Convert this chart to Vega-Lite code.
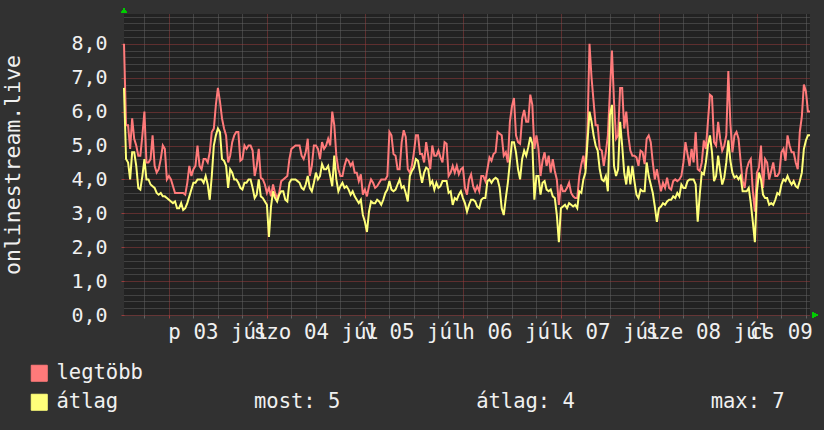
{
  "$schema": "https://vega.github.io/schema/vega-lite/v6.json",
  "width": 686,
  "height": 301,
  "autosize": {"type": "none"},
  "padding": {"left": 124, "top": 14, "right": 14, "bottom": 115},
  "background": "#313131",
  "config": {
    "view": {"stroke": null, "fill": "#222222"},
    "font": "DejaVu Sans Mono"
  },
  "data": {
    "values": [
      {"t":"2020-07-02T13:00","legtöbb":8.0,"átlag":6.7},
      {"t":"2020-07-02T13:30","legtöbb":5.6,"átlag":4.6},
      {"t":"2020-07-02T14:00","legtöbb":5.6,"átlag":4.5},
      {"t":"2020-07-02T14:30","legtöbb":4.9,"átlag":4.0},
      {"t":"2020-07-02T15:00","legtöbb":5.8,"átlag":4.8},
      {"t":"2020-07-02T15:30","legtöbb":5.2,"átlag":4.8},
      {"t":"2020-07-02T16:00","legtöbb":5.0,"átlag":4.4},
      {"t":"2020-07-02T16:30","legtöbb":4.7,"átlag":3.75},
      {"t":"2020-07-02T17:00","legtöbb":4.7,"átlag":3.7},
      {"t":"2020-07-02T17:30","legtöbb":5.3,"átlag":4.1},
      {"t":"2020-07-02T18:00","legtöbb":6.0,"átlag":4.6},
      {"t":"2020-07-02T18:30","legtöbb":4.5,"átlag":4.0},
      {"t":"2020-07-02T19:00","legtöbb":4.5,"átlag":4.0},
      {"t":"2020-07-02T19:30","legtöbb":4.6,"átlag":3.85},
      {"t":"2020-07-02T20:00","legtöbb":5.3,"átlag":3.8},
      {"t":"2020-07-02T20:30","legtöbb":4.4,"átlag":3.75},
      {"t":"2020-07-02T21:00","legtöbb":4.2,"átlag":3.6},
      {"t":"2020-07-02T21:30","legtöbb":4.3,"átlag":3.55},
      {"t":"2020-07-02T22:00","legtöbb":4.6,"átlag":3.6},
      {"t":"2020-07-02T22:30","legtöbb":5.0,"átlag":3.5},
      {"t":"2020-07-02T23:00","legtöbb":4.9,"átlag":3.5},
      {"t":"2020-07-02T23:30","legtöbb":4.0,"átlag":3.45},
      {"t":"2020-07-03T00:00","legtöbb":4.1,"átlag":3.4},
      {"t":"2020-07-03T00:30","legtöbb":4.0,"átlag":3.35},
      {"t":"2020-07-03T01:00","legtöbb":3.8,"átlag":3.3},
      {"t":"2020-07-03T01:30","legtöbb":3.6,"átlag":3.35},
      {"t":"2020-07-03T02:00","legtöbb":3.6,"átlag":3.15},
      {"t":"2020-07-03T02:30","legtöbb":3.6,"átlag":3.15},
      {"t":"2020-07-03T03:00","legtöbb":3.6,"átlag":3.3},
      {"t":"2020-07-03T03:30","legtöbb":3.6,"átlag":3.1},
      {"t":"2020-07-03T04:00","legtöbb":3.55,"átlag":3.15},
      {"t":"2020-07-03T04:30","legtöbb":3.9,"átlag":3.3},
      {"t":"2020-07-03T05:00","legtöbb":4.4,"átlag":3.5},
      {"t":"2020-07-03T05:30","legtöbb":4.1,"átlag":3.7},
      {"t":"2020-07-03T06:00","legtöbb":4.3,"átlag":3.9},
      {"t":"2020-07-03T06:30","legtöbb":4.4,"átlag":3.9},
      {"t":"2020-07-03T07:00","legtöbb":5.0,"átlag":4.0},
      {"t":"2020-07-03T07:30","legtöbb":4.4,"átlag":4.0},
      {"t":"2020-07-03T08:00","legtöbb":4.3,"átlag":4.0},
      {"t":"2020-07-03T08:30","legtöbb":4.6,"átlag":3.9},
      {"t":"2020-07-03T09:00","legtöbb":4.6,"átlag":4.1},
      {"t":"2020-07-03T09:30","legtöbb":4.5,"átlag":3.85},
      {"t":"2020-07-03T10:00","legtöbb":4.8,"átlag":3.4},
      {"t":"2020-07-03T10:30","legtöbb":5.4,"átlag":4.1},
      {"t":"2020-07-03T11:00","legtöbb":5.5,"átlag":5.0},
      {"t":"2020-07-03T11:30","legtöbb":6.2,"átlag":5.3},
      {"t":"2020-07-03T12:00","legtöbb":6.7,"átlag":5.5},
      {"t":"2020-07-03T12:30","legtöbb":6.3,"átlag":5.4},
      {"t":"2020-07-03T13:00","legtöbb":5.8,"átlag":4.6},
      {"t":"2020-07-03T13:30","legtöbb":5.5,"átlag":4.55},
      {"t":"2020-07-03T14:00","legtöbb":5.3,"átlag":4.4},
      {"t":"2020-07-03T14:30","legtöbb":4.5,"átlag":3.75},
      {"t":"2020-07-03T15:00","legtöbb":4.7,"átlag":4.3},
      {"t":"2020-07-03T15:30","legtöbb":5.1,"átlag":4.2},
      {"t":"2020-07-03T16:00","legtöbb":5.3,"átlag":4.0},
      {"t":"2020-07-03T16:30","legtöbb":5.4,"átlag":4.0},
      {"t":"2020-07-03T17:00","legtöbb":5.4,"átlag":3.9},
      {"t":"2020-07-03T17:30","legtöbb":4.55,"átlag":3.75},
      {"t":"2020-07-03T18:00","legtöbb":4.6,"átlag":3.7},
      {"t":"2020-07-03T18:30","legtöbb":5.0,"átlag":3.9},
      {"t":"2020-07-03T19:00","legtöbb":4.9,"átlag":3.9},
      {"t":"2020-07-03T19:30","legtöbb":5.0,"átlag":4.0},
      {"t":"2020-07-03T20:00","legtöbb":5.0,"átlag":4.0},
      {"t":"2020-07-03T20:30","legtöbb":4.85,"átlag":3.75},
      {"t":"2020-07-03T21:00","legtöbb":4.1,"átlag":3.45},
      {"t":"2020-07-03T21:30","legtöbb":4.4,"átlag":3.55},
      {"t":"2020-07-03T22:00","legtöbb":4.9,"átlag":4.0},
      {"t":"2020-07-03T22:30","legtöbb":4.05,"átlag":3.5},
      {"t":"2020-07-03T23:00","legtöbb":4.0,"átlag":3.45},
      {"t":"2020-07-03T23:30","legtöbb":3.85,"átlag":3.35},
      {"t":"2020-07-04T00:00","legtöbb":3.6,"átlag":3.25},
      {"t":"2020-07-04T00:30","legtöbb":3.75,"átlag":2.3},
      {"t":"2020-07-04T01:00","legtöbb":3.5,"átlag":3.2},
      {"t":"2020-07-04T01:30","legtöbb":3.85,"átlag":3.65},
      {"t":"2020-07-04T02:00","legtöbb":3.6,"átlag":3.45},
      {"t":"2020-07-04T02:30","legtöbb":3.45,"átlag":3.35},
      {"t":"2020-07-04T03:00","legtöbb":3.6,"átlag":3.55},
      {"t":"2020-07-04T03:30","legtöbb":3.95,"átlag":3.65},
      {"t":"2020-07-04T04:00","legtöbb":4.0,"átlag":3.65},
      {"t":"2020-07-04T04:30","legtöbb":4.05,"átlag":3.4},
      {"t":"2020-07-04T05:00","legtöbb":4.1,"átlag":3.35},
      {"t":"2020-07-04T05:30","legtöbb":4.6,"átlag":3.9},
      {"t":"2020-07-04T06:00","legtöbb":4.9,"átlag":4.0},
      {"t":"2020-07-04T06:30","legtöbb":4.95,"átlag":4.0},
      {"t":"2020-07-04T07:00","legtöbb":5.0,"átlag":4.0},
      {"t":"2020-07-04T07:30","legtöbb":5.0,"átlag":3.95},
      {"t":"2020-07-04T08:00","legtöbb":5.0,"átlag":3.9},
      {"t":"2020-07-04T08:30","legtöbb":4.7,"átlag":3.75},
      {"t":"2020-07-04T09:00","legtöbb":4.6,"átlag":3.7},
      {"t":"2020-07-04T09:30","legtöbb":4.8,"átlag":3.85},
      {"t":"2020-07-04T10:00","legtöbb":5.2,"átlag":4.1},
      {"t":"2020-07-04T10:30","legtöbb":4.1,"átlag":3.75},
      {"t":"2020-07-04T11:00","legtöbb":4.4,"átlag":3.65},
      {"t":"2020-07-04T11:30","legtöbb":5.0,"átlag":3.9},
      {"t":"2020-07-04T12:00","legtöbb":5.0,"átlag":4.2},
      {"t":"2020-07-04T12:30","legtöbb":4.9,"átlag":4.0},
      {"t":"2020-07-04T13:00","legtöbb":4.6,"átlag":4.1},
      {"t":"2020-07-04T13:30","legtöbb":5.1,"átlag":4.45},
      {"t":"2020-07-04T14:00","legtöbb":4.9,"átlag":4.3},
      {"t":"2020-07-04T14:30","legtöbb":5.0,"átlag":4.3},
      {"t":"2020-07-04T15:00","legtöbb":5.2,"átlag":4.4},
      {"t":"2020-07-04T15:30","legtöbb":5.0,"átlag":4.1},
      {"t":"2020-07-04T16:00","legtöbb":6.0,"átlag":3.8},
      {"t":"2020-07-04T16:30","legtöbb":5.6,"átlag":4.7},
      {"t":"2020-07-04T17:00","legtöbb":4.7,"átlag":4.0},
      {"t":"2020-07-04T17:30","legtöbb":4.3,"átlag":3.65},
      {"t":"2020-07-04T18:00","legtöbb":4.1,"átlag":3.8},
      {"t":"2020-07-04T18:30","legtöbb":4.1,"átlag":3.9},
      {"t":"2020-07-04T19:00","legtöbb":4.4,"átlag":3.75},
      {"t":"2020-07-04T19:30","legtöbb":4.6,"átlag":3.8},
      {"t":"2020-07-04T20:00","legtöbb":4.55,"átlag":3.7},
      {"t":"2020-07-04T20:30","legtöbb":4.4,"átlag":3.55},
      {"t":"2020-07-04T21:00","legtöbb":4.5,"átlag":3.65},
      {"t":"2020-07-04T21:30","legtöbb":4.2,"átlag":3.5},
      {"t":"2020-07-04T22:00","legtöbb":4.2,"átlag":3.4},
      {"t":"2020-07-04T22:30","legtöbb":3.95,"átlag":3.3},
      {"t":"2020-07-04T23:00","legtöbb":4.15,"átlag":3.4},
      {"t":"2020-07-04T23:30","legtöbb":3.55,"átlag":2.95},
      {"t":"2020-07-05T00:00","legtöbb":3.7,"átlag":2.75},
      {"t":"2020-07-05T00:30","legtöbb":3.5,"átlag":2.45},
      {"t":"2020-07-05T01:00","legtöbb":3.8,"átlag":3.05},
      {"t":"2020-07-05T01:30","legtöbb":4.0,"átlag":3.35},
      {"t":"2020-07-05T02:00","legtöbb":3.9,"átlag":3.3},
      {"t":"2020-07-05T02:30","legtöbb":3.75,"átlag":3.3},
      {"t":"2020-07-05T03:00","legtöbb":3.8,"átlag":3.4},
      {"t":"2020-07-05T03:30","legtöbb":3.9,"átlag":3.35},
      {"t":"2020-07-05T04:00","legtöbb":4.0,"átlag":3.25},
      {"t":"2020-07-05T04:30","legtöbb":4.0,"átlag":3.4},
      {"t":"2020-07-05T05:00","legtöbb":4.0,"átlag":3.6},
      {"t":"2020-07-05T05:30","legtöbb":4.1,"átlag":3.7},
      {"t":"2020-07-05T06:00","legtöbb":5.4,"átlag":3.95},
      {"t":"2020-07-05T06:30","legtöbb":5.3,"átlag":3.7},
      {"t":"2020-07-05T07:00","legtöbb":4.75,"átlag":3.65},
      {"t":"2020-07-05T07:30","legtöbb":4.7,"átlag":3.7},
      {"t":"2020-07-05T08:00","legtöbb":4.3,"átlag":3.85},
      {"t":"2020-07-05T08:30","legtöbb":4.3,"átlag":4.0},
      {"t":"2020-07-05T09:00","legtöbb":5.1,"átlag":3.75},
      {"t":"2020-07-05T09:30","legtöbb":5.45,"átlag":3.8},
      {"t":"2020-07-05T10:00","legtöbb":5.25,"átlag":3.6},
      {"t":"2020-07-05T10:30","legtöbb":4.3,"átlag":3.35},
      {"t":"2020-07-05T11:00","legtöbb":4.2,"átlag":4.1},
      {"t":"2020-07-05T11:30","legtöbb":4.4,"átlag":4.25},
      {"t":"2020-07-05T12:00","legtöbb":4.8,"átlag":4.35},
      {"t":"2020-07-05T12:30","legtöbb":5.3,"átlag":4.6},
      {"t":"2020-07-05T13:00","legtöbb":5.3,"átlag":4.55},
      {"t":"2020-07-05T13:30","legtöbb":4.75,"átlag":4.2},
      {"t":"2020-07-05T14:00","legtöbb":4.75,"átlag":3.9},
      {"t":"2020-07-05T14:30","legtöbb":4.5,"átlag":4.2},
      {"t":"2020-07-05T15:00","legtöbb":5.1,"átlag":4.35},
      {"t":"2020-07-05T15:30","legtöbb":4.7,"átlag":4.3},
      {"t":"2020-07-05T16:00","legtöbb":4.3,"átlag":3.85},
      {"t":"2020-07-05T16:30","legtöbb":5.0,"átlag":3.95},
      {"t":"2020-07-05T17:00","legtöbb":4.7,"átlag":3.7},
      {"t":"2020-07-05T17:30","legtöbb":4.7,"átlag":3.9},
      {"t":"2020-07-05T18:00","legtöbb":4.85,"átlag":3.75},
      {"t":"2020-07-05T18:30","legtöbb":4.65,"átlag":3.8},
      {"t":"2020-07-05T19:00","legtöbb":4.5,"átlag":3.95},
      {"t":"2020-07-05T19:30","legtöbb":5.1,"átlag":3.95},
      {"t":"2020-07-05T20:00","legtöbb":5.05,"átlag":3.95},
      {"t":"2020-07-05T20:30","legtöbb":4.1,"átlag":3.6},
      {"t":"2020-07-05T21:00","legtöbb":4.2,"átlag":3.65},
      {"t":"2020-07-05T21:30","legtöbb":4.4,"átlag":3.25},
      {"t":"2020-07-05T22:00","legtöbb":4.2,"átlag":3.45},
      {"t":"2020-07-05T22:30","legtöbb":4.4,"átlag":3.4},
      {"t":"2020-07-05T23:00","legtöbb":4.15,"átlag":3.55},
      {"t":"2020-07-05T23:30","legtöbb":4.3,"átlag":3.65},
      {"t":"2020-07-06T00:00","legtöbb":4.35,"átlag":3.45},
      {"t":"2020-07-06T00:30","legtöbb":3.75,"átlag":3.3},
      {"t":"2020-07-06T01:00","legtöbb":3.55,"átlag":3.05},
      {"t":"2020-07-06T01:30","legtöbb":4.0,"átlag":3.25},
      {"t":"2020-07-06T02:00","legtöbb":4.15,"átlag":3.4},
      {"t":"2020-07-06T02:30","legtöbb":3.8,"átlag":3.4},
      {"t":"2020-07-06T03:00","legtöbb":3.65,"átlag":3.35},
      {"t":"2020-07-06T03:30","legtöbb":3.8,"átlag":3.2},
      {"t":"2020-07-06T04:00","legtöbb":3.65,"átlag":3.15},
      {"t":"2020-07-06T04:30","legtöbb":4.1,"átlag":3.4},
      {"t":"2020-07-06T05:00","legtöbb":4.1,"átlag":3.45},
      {"t":"2020-07-06T05:30","legtöbb":3.95,"átlag":3.45},
      {"t":"2020-07-06T06:00","legtöbb":4.3,"átlag":3.95},
      {"t":"2020-07-06T06:30","legtöbb":4.65,"átlag":4.0},
      {"t":"2020-07-06T07:00","legtöbb":4.55,"átlag":3.9},
      {"t":"2020-07-06T07:30","legtöbb":4.75,"átlag":4.0},
      {"t":"2020-07-06T08:00","legtöbb":4.8,"átlag":4.05},
      {"t":"2020-07-06T08:30","legtöbb":5.4,"átlag":4.0},
      {"t":"2020-07-06T09:00","legtöbb":5.35,"átlag":3.75},
      {"t":"2020-07-06T09:30","legtöbb":5.3,"átlag":3.15},
      {"t":"2020-07-06T10:00","legtöbb":4.7,"átlag":2.95},
      {"t":"2020-07-06T10:30","legtöbb":4.8,"átlag":3.45},
      {"t":"2020-07-06T11:00","legtöbb":4.5,"átlag":3.9},
      {"t":"2020-07-06T11:30","legtöbb":5.7,"átlag":4.5},
      {"t":"2020-07-06T12:00","legtöbb":6.15,"átlag":5.1},
      {"t":"2020-07-06T12:30","legtöbb":6.4,"átlag":5.1},
      {"t":"2020-07-06T13:00","legtöbb":5.3,"átlag":4.8},
      {"t":"2020-07-06T13:30","legtöbb":5.1,"átlag":4.3},
      {"t":"2020-07-06T14:00","legtöbb":5.05,"átlag":4.0},
      {"t":"2020-07-06T14:30","legtöbb":5.8,"átlag":4.6},
      {"t":"2020-07-06T15:00","legtöbb":6.05,"átlag":4.85},
      {"t":"2020-07-06T15:30","legtöbb":5.7,"átlag":4.7},
      {"t":"2020-07-06T16:00","legtöbb":5.7,"átlag":4.95},
      {"t":"2020-07-06T16:30","legtöbb":6.5,"átlag":5.25},
      {"t":"2020-07-06T17:00","legtöbb":6.2,"átlag":5.05},
      {"t":"2020-07-06T17:30","legtöbb":4.9,"átlag":3.4},
      {"t":"2020-07-06T18:00","legtöbb":5.3,"átlag":4.1},
      {"t":"2020-07-06T18:30","legtöbb":4.9,"átlag":4.1},
      {"t":"2020-07-06T19:00","legtöbb":4.1,"átlag":3.55},
      {"t":"2020-07-06T19:30","legtöbb":4.55,"átlag":3.9},
      {"t":"2020-07-06T20:00","legtöbb":4.8,"átlag":3.95},
      {"t":"2020-07-06T20:30","legtöbb":4.4,"átlag":3.7},
      {"t":"2020-07-06T21:00","legtöbb":4.7,"átlag":3.65},
      {"t":"2020-07-06T21:30","legtöbb":4.2,"átlag":3.7},
      {"t":"2020-07-06T22:00","legtöbb":4.6,"átlag":3.5},
      {"t":"2020-07-06T22:30","legtöbb":4.25,"átlag":3.45},
      {"t":"2020-07-06T23:00","legtöbb":4.0,"átlag":2.95},
      {"t":"2020-07-06T23:30","legtöbb":3.25,"átlag":2.15},
      {"t":"2020-07-07T00:00","legtöbb":3.85,"átlag":3.15},
      {"t":"2020-07-07T00:30","legtöbb":3.65,"átlag":3.2},
      {"t":"2020-07-07T01:00","legtöbb":3.65,"átlag":3.25},
      {"t":"2020-07-07T01:30","legtöbb":3.75,"átlag":3.15},
      {"t":"2020-07-07T02:00","legtöbb":3.9,"átlag":3.3},
      {"t":"2020-07-07T02:30","legtöbb":3.6,"átlag":3.25},
      {"t":"2020-07-07T03:00","legtöbb":3.5,"átlag":3.2},
      {"t":"2020-07-07T03:30","legtöbb":3.45,"átlag":3.25},
      {"t":"2020-07-07T04:00","legtöbb":3.45,"átlag":3.15},
      {"t":"2020-07-07T04:30","legtöbb":4.1,"átlag":3.65},
      {"t":"2020-07-07T05:00","legtöbb":4.45,"átlag":3.6},
      {"t":"2020-07-07T05:30","legtöbb":4.7,"átlag":4.0},
      {"t":"2020-07-07T06:00","legtöbb":4.3,"átlag":4.2},
      {"t":"2020-07-07T06:30","legtöbb":5.4,"átlag":5.1},
      {"t":"2020-07-07T07:00","legtöbb":8.0,"átlag":6.0},
      {"t":"2020-07-07T07:30","legtöbb":7.0,"átlag":5.7},
      {"t":"2020-07-07T08:00","legtöbb":6.3,"átlag":5.3},
      {"t":"2020-07-07T08:30","legtöbb":5.6,"átlag":5.0},
      {"t":"2020-07-07T09:00","legtöbb":5.6,"átlag":4.85},
      {"t":"2020-07-07T09:30","legtöbb":4.9,"átlag":4.3},
      {"t":"2020-07-07T10:00","legtöbb":4.85,"átlag":4.0},
      {"t":"2020-07-07T10:30","legtöbb":4.4,"átlag":3.95},
      {"t":"2020-07-07T11:00","legtöbb":4.8,"átlag":4.1},
      {"t":"2020-07-07T11:30","legtöbb":5.3,"átlag":3.65},
      {"t":"2020-07-07T12:00","legtöbb":6.6,"átlag":5.9},
      {"t":"2020-07-07T12:30","legtöbb":7.8,"átlag":6.2},
      {"t":"2020-07-07T13:00","legtöbb":6.3,"átlag":4.4},
      {"t":"2020-07-07T13:30","legtöbb":5.2,"átlag":4.1},
      {"t":"2020-07-07T14:00","legtöbb":5.3,"átlag":4.3},
      {"t":"2020-07-07T14:30","legtöbb":6.7,"átlag":5.7},
      {"t":"2020-07-07T15:00","legtöbb":6.7,"átlag":5.0},
      {"t":"2020-07-07T15:30","legtöbb":5.5,"átlag":4.2},
      {"t":"2020-07-07T16:00","legtöbb":6.0,"átlag":3.85},
      {"t":"2020-07-07T16:30","legtöbb":5.3,"átlag":4.4},
      {"t":"2020-07-07T17:00","legtöbb":4.85,"átlag":3.85},
      {"t":"2020-07-07T17:30","legtöbb":4.7,"átlag":4.4},
      {"t":"2020-07-07T18:00","legtöbb":4.7,"átlag":3.95},
      {"t":"2020-07-07T18:30","legtöbb":4.65,"átlag":3.55},
      {"t":"2020-07-07T19:00","legtöbb":4.4,"átlag":3.45},
      {"t":"2020-07-07T19:30","legtöbb":4.85,"átlag":3.7},
      {"t":"2020-07-07T20:00","legtöbb":4.8,"átlag":3.65},
      {"t":"2020-07-07T20:30","legtöbb":4.45,"átlag":3.65},
      {"t":"2020-07-07T21:00","legtöbb":5.2,"átlag":4.5},
      {"t":"2020-07-07T21:30","legtöbb":5.3,"átlag":4.1},
      {"t":"2020-07-07T22:00","legtöbb":5.1,"átlag":3.85},
      {"t":"2020-07-07T22:30","legtöbb":4.5,"átlag":3.6},
      {"t":"2020-07-07T23:00","legtöbb":4.0,"átlag":3.2},
      {"t":"2020-07-07T23:30","legtöbb":4.3,"átlag":2.75},
      {"t":"2020-07-08T00:00","legtöbb":3.95,"átlag":3.15},
      {"t":"2020-07-08T00:30","legtöbb":3.65,"átlag":3.2},
      {"t":"2020-07-08T01:00","legtöbb":3.9,"átlag":3.3},
      {"t":"2020-07-08T01:30","legtöbb":3.75,"átlag":3.25},
      {"t":"2020-07-08T02:00","legtöbb":4.05,"átlag":3.35},
      {"t":"2020-07-08T02:30","legtöbb":3.75,"átlag":3.4},
      {"t":"2020-07-08T03:00","legtöbb":3.7,"átlag":3.4},
      {"t":"2020-07-08T03:30","legtöbb":3.95,"átlag":3.5},
      {"t":"2020-07-08T04:00","legtöbb":4.0,"átlag":3.45},
      {"t":"2020-07-08T04:30","legtöbb":3.95,"átlag":3.6},
      {"t":"2020-07-08T05:00","legtöbb":4.0,"átlag":3.5},
      {"t":"2020-07-08T05:30","legtöbb":4.1,"átlag":3.85},
      {"t":"2020-07-08T06:00","legtöbb":4.5,"átlag":3.75},
      {"t":"2020-07-08T06:30","legtöbb":5.1,"átlag":3.75},
      {"t":"2020-07-08T07:00","legtöbb":4.75,"átlag":3.95},
      {"t":"2020-07-08T07:30","legtöbb":4.4,"átlag":4.0},
      {"t":"2020-07-08T08:00","legtöbb":4.9,"átlag":4.0},
      {"t":"2020-07-08T08:30","legtöbb":4.5,"átlag":4.0},
      {"t":"2020-07-08T09:00","legtöbb":5.4,"átlag":3.85},
      {"t":"2020-07-08T09:30","legtöbb":4.3,"átlag":2.75},
      {"t":"2020-07-08T10:00","legtöbb":4.25,"átlag":3.55},
      {"t":"2020-07-08T10:30","legtöbb":4.5,"átlag":4.2},
      {"t":"2020-07-08T11:00","legtöbb":5.15,"átlag":4.15},
      {"t":"2020-07-08T11:30","legtöbb":4.9,"átlag":4.5},
      {"t":"2020-07-08T12:00","legtöbb":5.7,"átlag":5.0},
      {"t":"2020-07-08T12:30","legtöbb":6.5,"átlag":5.3},
      {"t":"2020-07-08T13:00","legtöbb":6.45,"átlag":4.8},
      {"t":"2020-07-08T13:30","legtöbb":5.1,"átlag":3.95},
      {"t":"2020-07-08T14:00","legtöbb":5.0,"átlag":4.1},
      {"t":"2020-07-08T14:30","legtöbb":5.7,"átlag":4.7},
      {"t":"2020-07-08T15:00","legtöbb":5.2,"átlag":4.25},
      {"t":"2020-07-08T15:30","legtöbb":4.85,"átlag":3.85},
      {"t":"2020-07-08T16:00","legtöbb":5.0,"átlag":4.05},
      {"t":"2020-07-08T16:30","legtöbb":5.3,"átlag":4.5},
      {"t":"2020-07-08T17:00","legtöbb":7.2,"átlag":5.15},
      {"t":"2020-07-08T17:30","legtöbb":5.65,"átlag":4.55},
      {"t":"2020-07-08T18:00","legtöbb":4.8,"átlag":4.2},
      {"t":"2020-07-08T18:30","legtöbb":5.3,"átlag":4.05},
      {"t":"2020-07-08T19:00","legtöbb":5.4,"átlag":4.1},
      {"t":"2020-07-08T19:30","legtöbb":5.2,"átlag":4.0},
      {"t":"2020-07-08T20:00","legtöbb":4.55,"átlag":4.1},
      {"t":"2020-07-08T20:30","legtöbb":3.95,"átlag":3.65},
      {"t":"2020-07-08T21:00","legtöbb":3.75,"átlag":3.65},
      {"t":"2020-07-08T21:30","legtöbb":4.3,"átlag":3.65},
      {"t":"2020-07-08T22:00","legtöbb":4.5,"átlag":3.75},
      {"t":"2020-07-08T22:30","legtöbb":4.6,"átlag":3.3},
      {"t":"2020-07-08T23:00","legtöbb":3.65,"átlag":2.75},
      {"t":"2020-07-08T23:30","legtöbb":3.05,"átlag":2.15},
      {"t":"2020-07-09T00:00","legtöbb":4.2,"átlag":3.65},
      {"t":"2020-07-09T00:30","legtöbb":4.35,"átlag":4.2},
      {"t":"2020-07-09T01:00","legtöbb":5.0,"átlag":4.0},
      {"t":"2020-07-09T01:30","legtöbb":3.75,"átlag":3.55},
      {"t":"2020-07-09T02:00","legtöbb":4.6,"átlag":3.45},
      {"t":"2020-07-09T02:30","legtöbb":4.5,"átlag":3.45},
      {"t":"2020-07-09T03:00","legtöbb":4.0,"átlag":3.25},
      {"t":"2020-07-09T03:30","legtöbb":4.25,"átlag":3.3},
      {"t":"2020-07-09T04:00","legtöbb":4.5,"átlag":3.25},
      {"t":"2020-07-09T04:30","legtöbb":4.1,"átlag":3.4},
      {"t":"2020-07-09T05:00","legtöbb":4.1,"átlag":3.6},
      {"t":"2020-07-09T05:30","legtöbb":4.2,"átlag":3.55},
      {"t":"2020-07-09T06:00","legtöbb":4.8,"átlag":3.85},
      {"t":"2020-07-09T06:30","legtöbb":4.9,"átlag":4.0},
      {"t":"2020-07-09T07:00","legtöbb":4.55,"átlag":3.95},
      {"t":"2020-07-09T07:30","legtöbb":5.3,"átlag":4.1},
      {"t":"2020-07-09T08:00","legtöbb":5.0,"átlag":3.95},
      {"t":"2020-07-09T08:30","legtöbb":4.8,"átlag":3.85},
      {"t":"2020-07-09T09:00","legtöbb":4.8,"átlag":3.95},
      {"t":"2020-07-09T09:30","legtöbb":4.5,"átlag":3.8},
      {"t":"2020-07-09T10:00","legtöbb":4.3,"átlag":3.75},
      {"t":"2020-07-09T10:30","legtöbb":5.4,"átlag":3.95},
      {"t":"2020-07-09T11:00","legtöbb":5.85,"átlag":4.2},
      {"t":"2020-07-09T11:30","legtöbb":6.8,"átlag":4.9},
      {"t":"2020-07-09T12:00","legtöbb":6.6,"átlag":5.15},
      {"t":"2020-07-09T12:30","legtöbb":6.0,"átlag":5.3},
      {"t":"2020-07-09T13:00","legtöbb":6.0,"átlag":5.3}
    ]
  },
  "transform": [{"fold": ["legtöbb", "átlag"], "as": ["series", "value"]}],
  "resolve": {"axis": {"x": "independent", "y": "independent"}},
  "layer": [
    {
      "transform": [{"filter": "datum.series == 'legtöbb'"}],
      "mark": {"type": "line", "strokeWidth": 2, "interpolate": "linear"},
      "encoding": {
        "x": {
          "field": "t", "type": "temporal",
          "scale": {"domain": [{"year": 2020, "month": 7, "date": 2, "hours": 13}, {"year": 2020, "month": 7, "date": 9, "hours": 13}]},
          "axis": {"orient": "bottom", "values": [
            {"year":2020,"month":7,"date":2,"hours":18},
            {"year":2020,"month":7,"date":3,"hours":6},{"year":2020,"month":7,"date":3,"hours":12},{"year":2020,"month":7,"date":3,"hours":18},
            {"year":2020,"month":7,"date":4,"hours":6},{"year":2020,"month":7,"date":4,"hours":12},{"year":2020,"month":7,"date":4,"hours":18},
            {"year":2020,"month":7,"date":5,"hours":6},{"year":2020,"month":7,"date":5,"hours":12},{"year":2020,"month":7,"date":5,"hours":18},
            {"year":2020,"month":7,"date":6,"hours":6},{"year":2020,"month":7,"date":6,"hours":12},{"year":2020,"month":7,"date":6,"hours":18},
            {"year":2020,"month":7,"date":7,"hours":6},{"year":2020,"month":7,"date":7,"hours":12},{"year":2020,"month":7,"date":7,"hours":18},
            {"year":2020,"month":7,"date":8,"hours":6},{"year":2020,"month":7,"date":8,"hours":12},{"year":2020,"month":7,"date":8,"hours":18},
            {"year":2020,"month":7,"date":9,"hours":6},{"year":2020,"month":7,"date":9,"hours":12}],
            "grid": true, "gridColor": "#626262", "gridDash": [1, 1], "gridWidth": 1, "labels": false, "ticks": true, "tickColor": "#626262", "tickSize": 3, "domain": false, "title": null}
        },
        "y": {
          "field": "value", "type": "quantitative",
          "scale": {"domain": [0, 8.88], "nice": false, "zero": true},
          "axis": {"orient": "left", "values": [0.2,0.4,0.6,0.8,1.2,1.4,1.6,1.8,2.2,2.4,2.6,2.8,3.2,3.4,3.6,3.8,4.2,4.4,4.6,4.8,5.2,5.4,5.6,5.8,6.2,6.4,6.6,6.8,7.2,7.4,7.6,7.8,8.2,8.4,8.6,8.8], "grid": true, "gridColor": "#626262", "gridDash": [1, 1], "labels": false, "ticks": false, "domain": false, "title": null}
        },
        "color": {
          "field": "series", "type": "nominal",
          "scale": {"domain": ["legtöbb", "átlag"], "range": ["#ff7a7a", "#ffff7a"]},
          "legend": {
            "orient": "none", "legendX": -95, "legendY": 349, "direction": "vertical", "title": null, "padding": 0,
            "symbolType": "square", "symbolSize": 256, "symbolStrokeColor": "#000000", "symbolStrokeWidth": 1,
            "labelFont": "DejaVu Sans Mono", "labelFontSize": 20.5, "labelColor": "#f0f0f0", "labelLimit": 900, "labelOffset": 7, "rowPadding": 8,
            "labelExpr": "datum.label == 'átlag' ? 'átlag\u00a0\u00a0\u00a0\u00a0\u00a0\u00a0\u00a0\u00a0\u00a0\u00a0\u00a0most: 5\u00a0\u00a0\u00a0\u00a0\u00a0\u00a0\u00a0\u00a0\u00a0\u00a0\u00a0átlag: 4\u00a0\u00a0\u00a0\u00a0\u00a0\u00a0\u00a0\u00a0\u00a0\u00a0\u00a0max: 7' : datum.label",
            "encode": {"symbols": {"update": {"fill": {"scale": "color", "field": "value"}, "stroke": {"value": "#000000"}}}}
          }
        }
      }
    },
    {
      "transform": [{"filter": "datum.series == 'átlag'"}],
      "mark": {"type": "line", "strokeWidth": 2, "interpolate": "linear"},
      "encoding": {
        "x": {
          "field": "t", "type": "temporal",
          "axis": {"orient": "bottom", "values": [
            {"year":2020,"month":7,"date":3},{"year":2020,"month":7,"date":4},{"year":2020,"month":7,"date":5},{"year":2020,"month":7,"date":6},
            {"year":2020,"month":7,"date":7},{"year":2020,"month":7,"date":8},{"year":2020,"month":7,"date":9}],
            "grid": true, "gridColor": "#9a3c3c", "gridDash": [1, 1], "gridWidth": 1,
            "labelExpr": "(day(datum.value) == 0 ? 'v' : day(datum.value) == 1 ? 'h' : day(datum.value) == 2 ? 'k' : day(datum.value) == 3 ? 'sze' : day(datum.value) == 4 ? 'cs' : day(datum.value) == 5 ? 'p' : 'szo') + ' ' + timeFormat(datum.value, '%d') + ' júl'",
            "labelOffset": 49, "labelAlign": "center", "labelBaseline": "alphabetic", "labelPadding": 20, "labelOverlap": false, "labelFlush": false, "labelBound": false,
            "labelFont": "DejaVu Sans Mono", "labelFontSize": 20.8, "labelColor": "#f0f0f0",
            "ticks": true, "tickColor": "#9a3c3c", "tickSize": 3, "domain": false, "title": null}
        },
        "y": {
          "field": "value", "type": "quantitative",
          "axis": {"orient": "left", "values": [0,1,2,3,4,5,6,7,8], "grid": true, "gridColor": "#9a3c3c", "gridDash": [1, 1], "gridWidth": 1,
            "labelExpr": "replace(format(datum.value, '.1f'), '.', ',')",
            "labelFont": "DejaVu Sans Mono", "labelFontSize": 20, "labelColor": "#f0f0f0", "labelPadding": 14,
            "ticks": true, "tickSize": 3, "tickColor": "#9a3c3c", "domain": false,
            "title": "onlinestream.live", "titleFont": "DejaVu Sans Mono", "titleFontSize": 21.5, "titleFontWeight": "normal", "titleColor": "#f0f0f0",
            "titleX": -105, "titleY": 150.5, "titleAngle": 270, "titleAlign": "center", "titleBaseline": "alphabetic"}
        },
        "color": {"field": "series", "type": "nominal"}
      }
    },
    {
      "mark": {"type": "point", "shape": "triangle-up", "filled": true, "size": 30, "color": "#00cc00", "opacity": 1},
      "encoding": {
        "x": {"datum": {"year": 2020, "month": 7, "date": 2, "hours": 13}, "type": "temporal", "axis": null},
        "y": {"datum": 8.98, "type": "quantitative", "axis": null}
      }
    },
    {
      "mark": {"type": "point", "shape": "triangle-right", "filled": true, "size": 30, "color": "#00cc00", "opacity": 1},
      "encoding": {
        "x": {"datum": {"year": 2020, "month": 7, "date": 9, "hours": 14, "minutes": 15}, "type": "temporal", "axis": null},
        "y": {"datum": 0, "type": "quantitative", "axis": null}
      }
    }
  ]
}
